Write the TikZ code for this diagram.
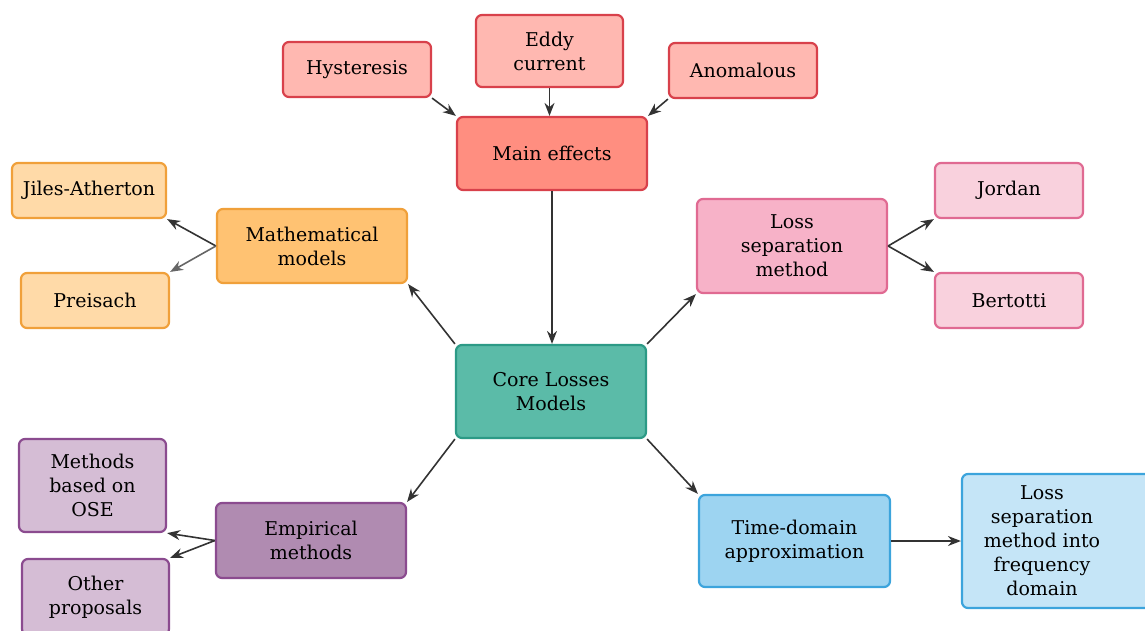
\documentclass[tikz,border=0pt]{standalone}
\usepackage{fontspec}
\setmainfont{DejaVu Serif}
\usetikzlibrary{arrows.meta}
\definecolor{redB}{HTML}{D8414B}
\definecolor{redL}{HTML}{FFB8B1}
\definecolor{redM}{HTML}{FF8E80}
\definecolor{orB}{HTML}{F0A03A}
\definecolor{orL}{HTML}{FFDAA8}
\definecolor{orM}{HTML}{FFC272}
\definecolor{pkB}{HTML}{E06A92}
\definecolor{pkL}{HTML}{F9D1DD}
\definecolor{pkM}{HTML}{F7B2C8}
\definecolor{tlB}{HTML}{2C9A86}
\definecolor{tlM}{HTML}{5BBBA8}
\definecolor{puB}{HTML}{8B4B8F}
\definecolor{puL}{HTML}{D5BDD5}
\definecolor{puM}{HTML}{B08BB1}
\definecolor{blB}{HTML}{3CA4DC}
\definecolor{blL}{HTML}{C5E5F7}
\definecolor{blM}{HTML}{9DD4F1}
\definecolor{arr}{HTML}{333333}
\tikzset{
  box/.style={draw, line width=2.2pt, rounded corners=6pt, align=center, inner sep=0pt,
     font=\fontsize{19}{24}\selectfont, text=black},
  con/.style={draw=arr, line width=1.6pt, -{Stealth[length=13pt,width=10pt]}},
}
\begin{document}
\begin{tikzpicture}[x=1pt,y=-1pt]
\useasboundingbox (0,0) rectangle (1145,631);
\clip (0,0) rectangle (1145,631);
% top
\node[box, draw=redB, fill=redL, minimum width=148pt, minimum height=55pt] (hyst) at (357,69.5) {Hysteresis};
\node[box, draw=redB, fill=redL, minimum width=147pt, minimum height=72pt] (eddy) at (549.5,51) {Eddy\\current};
\node[box, draw=redB, fill=redL, minimum width=148pt, minimum height=55pt] (anom) at (743,70.5) {Anomalous};
\node[box, draw=redB, fill=redM, minimum width=190pt, minimum height=73pt] (main) at (552,153.5) {Main effects};
% left upper
\node[box, draw=orB, fill=orL, minimum width=154pt, minimum height=55pt] (jiles) at (89,190.5) {Jiles-Atherton};
\node[box, draw=orB, fill=orM, minimum width=190pt, minimum height=74pt] (math) at (312,246) {Mathematical\\models};
\node[box, draw=orB, fill=orL, minimum width=148pt, minimum height=55pt] (preis) at (95,300.5) {Preisach};
% right upper
\node[box, draw=pkB, fill=pkM, minimum width=190pt, minimum height=94pt] (lsm) at (792,246) {Loss\\separation\\method};
\node[box, draw=pkB, fill=pkL, minimum width=148pt, minimum height=55pt] (jordan) at (1009,190.5) {Jordan};
\node[box, draw=pkB, fill=pkL, minimum width=148pt, minimum height=55pt] (bert) at (1009,300.5) {Bertotti};
% center
\node[box, draw=tlB, fill=tlM, minimum width=190pt, minimum height=93pt] (core) at (551,391.5) {Core Losses\\Models};
% left lower
\node[box, draw=puB, fill=puL, minimum width=147pt, minimum height=93pt] (ose) at (92.5,485.5) {Methods\\based on\\OSE};
\node[box, draw=puB, fill=puM, minimum width=190pt, minimum height=75pt] (emp) at (311,540.5) {Empirical\\methods};
\node[box, draw=puB, fill=puL, minimum width=147pt, minimum height=76pt] (other) at (95.5,597) {Other\\proposals};
% right lower
\node[box, draw=blB, fill=blM, minimum width=191pt, minimum height=92pt] (time) at (794.5,541) {Time-domain\\approximation};
\node[box, draw=blB, fill=blL, minimum width=190pt, minimum height=134pt] (freq) at (1057,541) {};
\node[align=center, font=\fontsize{19}{24}\selectfont, text=black] (freqt) at (1042,541) {Loss\\separation\\method into\\frequency\\domain};
% connectors
\draw[con] (hyst.south east) -- (main.north west);
\draw[con] (eddy.south) -- (eddy.south |- main.north);
\draw[con] (anom.south west) -- (main.north east);
\draw[con] (main.south) -- (main.south |- core.north);
\draw[con] (core.north west) -- (math.south east);
\draw[con] (core.north east) -- (lsm.south west);
\draw[con] (core.south west) -- (emp.north east);
\draw[con] (core.south east) -- (time.north west);
\draw[con] (math.west) -- (jiles.south east);
\draw[con, draw=black!60] (math.west) -- (preis.north east);
\draw[con] (lsm.east) -- (jordan.south west);
\draw[con] (lsm.east) -- (bert.north west);
\draw[con] (emp.west) -- (ose.south east);
\draw[con] (emp.west) -- (other.north east);
\draw[con] (time.east) -- (freq.west);
\end{tikzpicture}
\end{document}
